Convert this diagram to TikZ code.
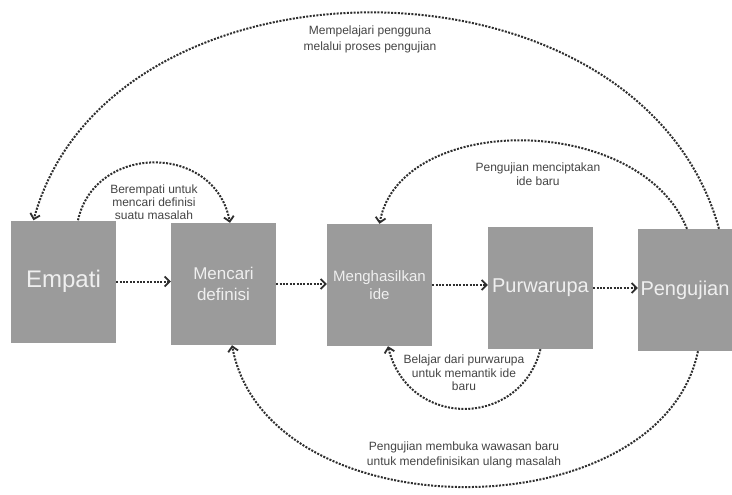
\documentclass[tikz,border=0pt]{standalone}
\usepackage{fontspec}
\setmainfont{Liberation Sans}
\usetikzlibrary{arrows.meta}
\definecolor{boxgray}{HTML}{9B9B9B}
\definecolor{boxtext}{HTML}{EFEFEF}
\definecolor{arrowc}{HTML}{2E2E2E}
\definecolor{labelc}{HTML}{444444}
\begin{document}
\begin{tikzpicture}[x=1pt,y=-1pt,
 stage/.style={fill=boxgray, minimum width=105pt, minimum height=122pt, inner sep=0pt, text=boxtext, align=center},
 flow/.style={draw=arrowc, line width=2pt, dash pattern=on 2pt off 1.4pt, -{Straight Barb[length=5pt,width=10pt,line width=1.8pt]}},
 lbl/.style={text=labelc, align=center, inner sep=1pt}]
\useasboundingbox (0,0) rectangle (732,495);
\clip (0,0) rectangle (732,495);

\node[stage, font=\fontsize{24}{28}\selectfont] (emp) at (63.5,281.5) {Empati};
\node[stage, font=\fontsize{17}{21}\selectfont] (mc) at (223.5,284) {Mencari\\definisi};
\node[stage, font=\fontsize{15}{18}\selectfont] (mh) at (379.5,285) {Menghasilkan\\ide};
\node[stage, font=\fontsize{20}{24}\selectfont] (pw) at (540.5,288) {Purwarupa};
\node[stage, minimum width=94pt, font=\fontsize{20}{24}\selectfont] (pg) at (685,290) {Pengujian};

\draw[flow] (emp.east) -- (emp.east -| mc.west);
\draw[flow] (mc.east) -- (mc.east -| mh.west);
\draw[flow] (mh.east) -- (mh.east -| pw.west);
\draw[flow] (pw.east) -- (pw.east -| pg.west);

\draw[flow] ([xshift=34pt]pg.north) .. controls (640,-58) and (110,-58) .. ([xshift=-30pt]emp.north);
\draw[flow] ([xshift=14.5pt]emp.north) .. controls (95,143) and (215,143) .. ([xshift=6.5pt]mc.north);
\draw[flow] ([xshift=2pt]pg.north) .. controls (640,112) and (400,112) .. (mh.north);
\draw[flow] (pw.south) .. controls (520,429) and (408,429) .. ([xshift=8.5pt]mh.south);
\draw[flow] ([xshift=13pt]pg.south) .. controls (660,533) and (267,533) .. ([xshift=8.5pt]mc.south);

\node[lbl, font=\fontsize{12}{16}\selectfont] (l1) at (370,39) {Mempelajari pengguna\\melalui proses pengujian};
\node[lbl, font=\fontsize{12}{12.8}\selectfont] (l2) at (154,202) {Berempati untuk\\mencari definisi\\suatu masalah};
\node[lbl, font=\fontsize{12}{14}\selectfont] (l3) at (538,174) {Pengujian menciptakan\\ide baru};
\node[lbl, font=\fontsize{12}{13.5}\selectfont] (l4) at (464,373) {Belajar dari purwarupa\\untuk memantik ide\\baru};
\node[lbl, font=\fontsize{12}{15}\selectfont] (l5) at (464,455) {Pengujian membuka wawasan baru\\untuk mendefinisikan ulang masalah};
\end{tikzpicture}
\end{document}
